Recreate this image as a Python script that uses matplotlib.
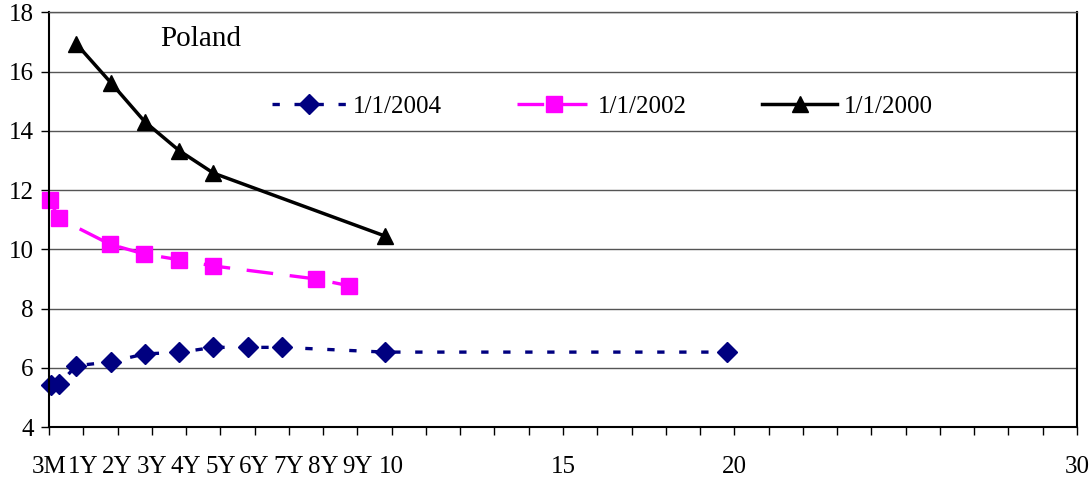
import matplotlib
matplotlib.use("Agg")
import matplotlib.pyplot as plt

plt.rcParams["font.family"] = ["Liberation Serif", "DejaVu Serif"]

# positions along the maturity axis
x_2004 = [0.05, 0.3, 0.8, 1.8, 2.8, 3.8, 4.8, 5.8, 6.8, 9.8, 19.8]
y_2004 = [5.41, 5.46, 6.07, 6.2, 6.47, 6.52, 6.69, 6.69, 6.69, 6.53, 6.53]

x_2002 = [0.03, 0.28, 1.78, 2.78, 3.78, 4.78, 7.78, 8.75]
y_2002 = [11.65, 11.05, 10.17, 9.84, 9.65, 9.44, 9.0, 8.77]

x_2000 = [0.8, 1.8, 2.8, 3.8, 4.8, 9.8]
y_2000 = [16.93, 15.63, 14.3, 13.33, 12.57, 10.45]

tick_pos = list(range(0, 31))
tick_names = {0: "3M", 1: "1Y", 2: "2Y", 3: "3Y", 4: "4Y", 5: "5Y", 6: "6Y",
              7: "7Y", 8: "8Y", 9: "9Y", 10: "10", 15: "15", 20: "20", 30: "30"}
tick_labels = [tick_names.get(t, "") for t in tick_pos]

fig = plt.figure(figsize=(10.92, 4.82), dpi=100)
ax = fig.add_axes([0.0449, 0.114, 0.9413, 0.8605])

ax.plot(x_2004, y_2004, color="#000080", lw=2.4, dashes=(2.2, 4.4),
        marker="D", ms=10, label="1/1/2004", clip_on=False)
ax.plot(x_2002, y_2002, color="#FF00FF", lw=2.4, dashes=(8, 5),
        marker="s", ms=11, label="1/1/2002", clip_on=False)
ax.plot(x_2000, y_2000, color="black", lw=2.5,
        marker="^", ms=12, label="1/1/2000", clip_on=False)

ax.set_xlim(0, 30)
ax.set_ylim(4, 18)
ax.set_yticks(range(4, 19, 2))
ax.set_xticks(tick_pos)
ax.set_xticklabels(tick_labels)
ax.yaxis.grid(True, color="#555555", lw=1)
ax.set_axisbelow(True)

ax.tick_params(axis="both", labelsize=18, direction="out", length=6, width=1)
ax.tick_params(axis="x", pad=15)
ax.tick_params(axis="y", pad=5)
for s in ax.spines.values():
    s.set_color("black")
    s.set_linewidth(1.5)
ax.spines["top"].set_linewidth(1)
ax.spines["top"].set_color("#555555")

ax.text(0.108, 0.935, "Poland", transform=ax.transAxes, fontsize=21,
        ha="left", va="center")

ax.legend(loc="center", bbox_to_anchor=(0.538, 0.773), ncol=3, frameon=False,
          fontsize=18, handlelength=3.0, handletextpad=0.25, columnspacing=3.0)

fig.savefig("out.png", dpi=100)
